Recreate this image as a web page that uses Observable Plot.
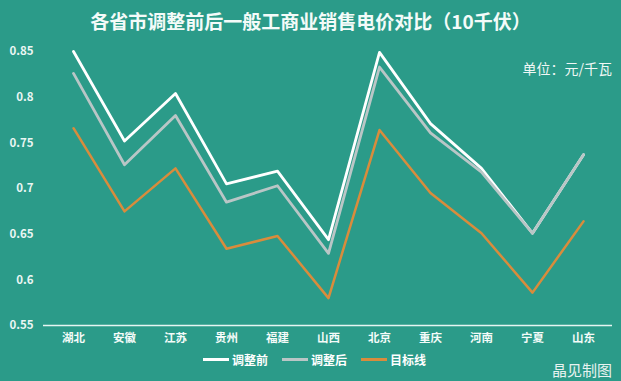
<!DOCTYPE html>
<html>
<head>
<meta charset="utf-8">
<script src="https://cdn.jsdelivr.net/npm/d3@7"></script>
<script src="https://cdn.jsdelivr.net/npm/@observablehq/plot@0.6"></script>
<style>
  html, body { margin: 0; padding: 0; background: #2b9b89; }
  #wrap { position: relative; width: 621px; height: 381px; background: #2b9b89; overflow: hidden;
          font-family: "Noto Sans CJK SC", "Noto Sans", sans-serif; color: #fff; }
  #chart { position: absolute; left: 0; top: 0; }
  .title { position: absolute; left: 0; width: 621px; top: 7px; text-align: center; font-size: 19px; font-weight: bold; color: #f4fbf9; }
  .unit { position: absolute; right: 9px; top: 58px; font-size: 14px; color: #f0f7f5; }
  .credit { position: absolute; right: 9px; top: 359px; font-size: 15px; color: #e8f2f0; }
  .legend { position: absolute; top: 351px; left: 4px; width: 621px; display: flex; justify-content: center; gap: 14px; font-size: 12px; font-weight: bold; }
  .legend span.item { display: flex; align-items: center; gap: 3px; }
  .legend span.sw { display: inline-block; width: 26px; height: 3px; }
</style>
</head>
<body>
<div id="wrap">
  <div id="chart"></div>
  <div class="title">各省市调整前后一般工商业销售电价对比（10千伏）</div>
  <div class="unit">单位：元/千瓦</div>
  <div class="legend" id="legend"></div>
  <div class="credit">晶见制图</div>
</div>
<script>
const provinces = ["湖北","安徽","江苏","贵州","福建","山西","北京","重庆","河南","宁夏","山东"];
const before = [0.850, 0.752, 0.804, 0.705, 0.719, 0.644, 0.849, 0.771, 0.722, 0.651, 0.737];
const after  = [0.826, 0.726, 0.780, 0.685, 0.703, 0.629, 0.833, 0.761, 0.718, 0.651, 0.737];
const target = [0.766, 0.675, 0.722, 0.634, 0.648, 0.580, 0.764, 0.695, 0.651, 0.586, 0.664];
const seriesNames = ["调整前", "调整后", "目标线"];
const seriesColors = ["#ffffff", "#b9c6c6", "#d98c3c"];
const yTicks = [0.55, 0.6, 0.65, 0.7, 0.75, 0.8, 0.85];

const rows = [];
[before, after, target].forEach((vals, si) => {
  vals.forEach((v, i) => rows.push({province: provinces[i], value: v, series: seriesNames[si]}));
});

const plot = Plot.plot({
  width: 621,
  height: 381,
  marginTop: 51,
  marginBottom: 56,
  marginLeft: 43,
  marginRight: 9,
  style: {background: "transparent", color: "#fff", fontFamily: "'Noto Sans CJK SC', sans-serif", fontSize: "11.5px", fontWeight: "bold"},
  x: {type: "point", domain: provinces, padding: 0.57, label: null},
  y: {domain: [0.55, 0.85], label: null},
  color: {domain: seriesNames, range: seriesColors},
  marks: [
    Plot.axisY({ticks: yTicks, tickSize: 0, tickPadding: 10, tickFormat: d => String(+d.toFixed(2)), label: null, fill: "#eaf6f3"}),
    Plot.axisX({tickSize: 0, tickPadding: 8, label: null, fill: "#f4fbf9"}),
    Plot.ruleY([0.55], {stroke: "#e6f5f2", strokeWidth: 1.5}),
    Plot.line(rows.filter(d => d.series === "调整前"), {x: "province", y: "value", stroke: "series", strokeWidth: 2.8}),
    Plot.line(rows.filter(d => d.series === "调整后"), {x: "province", y: "value", stroke: "series", strokeWidth: 2.8}),
    Plot.line(rows.filter(d => d.series === "目标线"), {x: "province", y: "value", stroke: "series", strokeWidth: 2.5})
  ]
});
document.getElementById("chart").appendChild(plot);

const legend = document.getElementById("legend");
seriesNames.forEach((n, i) => {
  const it = document.createElement("span");
  it.className = "item";
  const sw = document.createElement("span");
  sw.className = "sw";
  sw.style.background = seriesColors[i];
  const t = document.createElement("span");
  t.textContent = n;
  it.appendChild(sw); it.appendChild(t);
  legend.appendChild(it);
});
</script>
</body>
</html>
